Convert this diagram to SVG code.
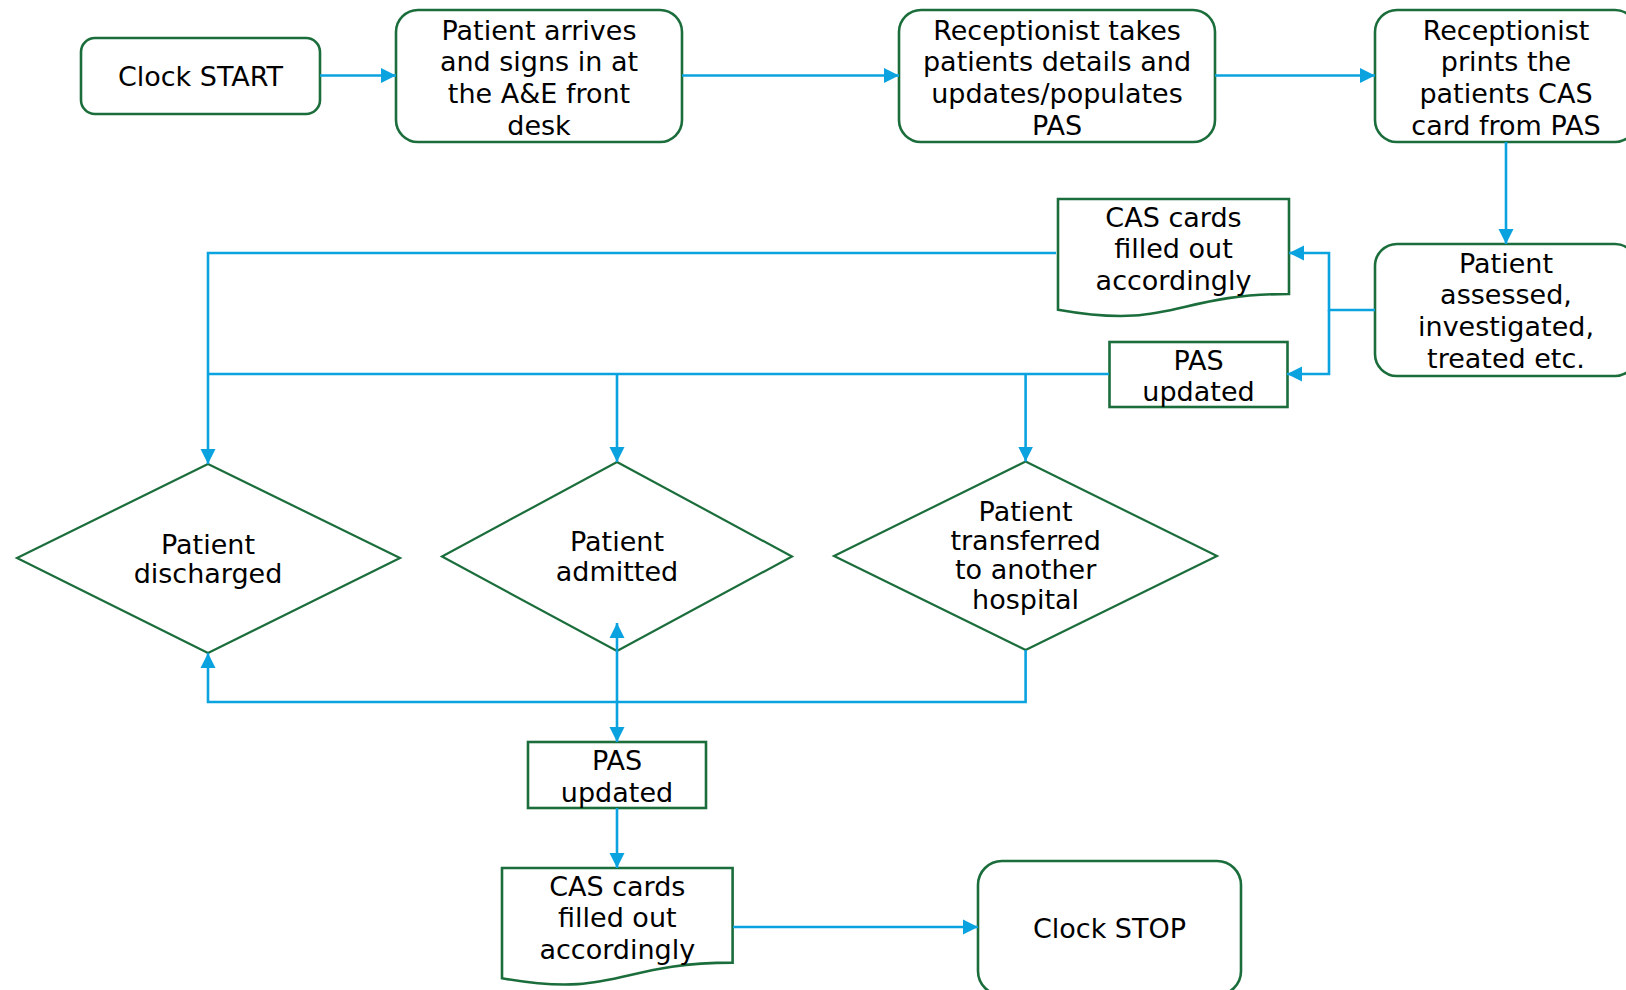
<svg xmlns="http://www.w3.org/2000/svg" width="1626" height="990" viewBox="0 0 1626 990">
<style>
.box{fill:#fff;stroke:#1b6e3c;stroke-width:2.6}
.dia{fill:#fff;stroke:#1b6e3c;stroke-width:2.2}
.con{fill:none;stroke:#0aa2df;stroke-width:2.6}
text{font-family:"DejaVu Sans","Verdana",sans-serif;font-size:27px;fill:#000;text-anchor:middle}
</style>
<defs>
<marker id="arr" markerUnits="userSpaceOnUse" markerWidth="16" markerHeight="16" viewBox="0 0 16 16" refX="15" refY="8" orient="auto-start-reverse">
<path d="M0,0.5 L15,8 L0,15.5 Z" fill="#0aa2df"/>
</marker>
</defs>
<rect width="1626" height="990" fill="#fff"/>
<g id="clock-start">
<rect class="box" x="81" y="38" width="239" height="76" rx="14"/>
<text x="200.5" y="86">Clock START</text>
</g>
<g id="patient-arrives">
<rect class="box" x="396" y="10" width="286" height="132" rx="22"/>
<text x="539" y="39.5">Patient arrives</text>
<text x="539" y="71.2">and signs in at</text>
<text x="539" y="102.9">the A&amp;E front</text>
<text x="539" y="134.6">desk</text>
</g>
<g id="receptionist-takes">
<rect class="box" x="899" y="10" width="316" height="132" rx="22"/>
<text x="1057" y="39.5">Receptionist takes</text>
<text x="1057" y="71.2">patients details and</text>
<text x="1057" y="102.9">updates/populates</text>
<text x="1057" y="134.6">PAS</text>
</g>
<g id="receptionist-prints">
<rect class="box" x="1375" y="10" width="262" height="132" rx="22"/>
<text x="1506" y="39.5">Receptionist</text>
<text x="1506" y="71.2">prints the</text>
<text x="1506" y="102.9">patients CAS</text>
<text x="1506" y="134.6">card from PAS</text>
</g>
<g id="patient-assessed">
<rect class="box" x="1375" y="244" width="262" height="132" rx="22"/>
<text x="1506" y="272.5">Patient</text>
<text x="1506" y="304.2">assessed,</text>
<text x="1506" y="335.9">investigated,</text>
<text x="1506" y="367.6">treated etc.</text>
</g>
<g id="cas-top">
<path class="box" d="M1058,199 H1289 V294 C1173.5,294 1173.5,330.2 1058,309.7 Z"/>
<text x="1173.5" y="226.5">CAS cards</text>
<text x="1173.5" y="258">filled out</text>
<text x="1173.5" y="289.5">accordingly</text>
</g>
<g id="pas-top">
<rect class="box" x="1109.5" y="342" width="178" height="65"/>
<text x="1198.5" y="369.5">PAS</text>
<text x="1198.5" y="401">updated</text>
</g>
<g id="patient-discharged">
<polygon class="dia" points="208,464 400,558 208,653 17,558"/>
<text x="208" y="554">Patient</text>
<text x="208" y="583">discharged</text>
</g>
<g id="patient-admitted">
<polygon class="dia" points="617,462 792,556.5 617,651 442,556.5"/>
<text x="617" y="551">Patient</text>
<text x="617" y="581">admitted</text>
</g>
<g id="patient-transferred">
<polygon class="dia" points="1025.6,461.5 1217,556 1025.6,650 834,556"/>
<text x="1025.6" y="520.5">Patient</text>
<text x="1025.6" y="549.8">transferred</text>
<text x="1025.6" y="579.4">to another</text>
<text x="1025.6" y="609">hospital</text>
</g>
<g id="pas-bottom">
<rect class="box" x="528" y="742" width="178" height="66"/>
<text x="617" y="770">PAS</text>
<text x="617" y="802">updated</text>
</g>
<g id="cas-bottom">
<path class="box" d="M502,868 H732.6 V962.6 C617.3,962.6 617.3,998.7 502,978.2 Z"/>
<text x="617.3" y="895.5">CAS cards</text>
<text x="617.3" y="927">filled out</text>
<text x="617.3" y="959">accordingly</text>
</g>
<g id="clock-stop">
<rect class="box" x="978" y="861" width="263" height="134" rx="24"/>
<text x="1109.5" y="937.5">Clock STOP</text>
</g>
<g id="connectors">
<path class="con" d="M320,75.5 H396" marker-end="url(#arr)"/>
<path class="con" d="M682,75.5 H899" marker-end="url(#arr)"/>
<path class="con" d="M1215,75.5 H1375" marker-end="url(#arr)"/>
<path class="con" d="M1506,142 V244" marker-end="url(#arr)"/>
<path class="con" d="M1375,310 H1329 V253 H1289" marker-end="url(#arr)"/>
<path class="con" d="M1329,310 V374 H1287" marker-end="url(#arr)"/>
<path class="con" d="M1056,253 H208 V464" marker-end="url(#arr)"/>
<path class="con" d="M1109,374 H208"/>
<path class="con" d="M617,374 V462" marker-end="url(#arr)"/>
<path class="con" d="M1025.6,374 V461.5" marker-end="url(#arr)"/>
<path class="con" d="M1025.6,650 V702 H208 V653" marker-end="url(#arr)"/>
<path class="con" d="M617,623 V742" marker-start="url(#arr)" marker-end="url(#arr)"/>
<path class="con" d="M617,808 V868" marker-end="url(#arr)"/>
<path class="con" d="M733,927 H978" marker-end="url(#arr)"/>
</g>
</svg>
